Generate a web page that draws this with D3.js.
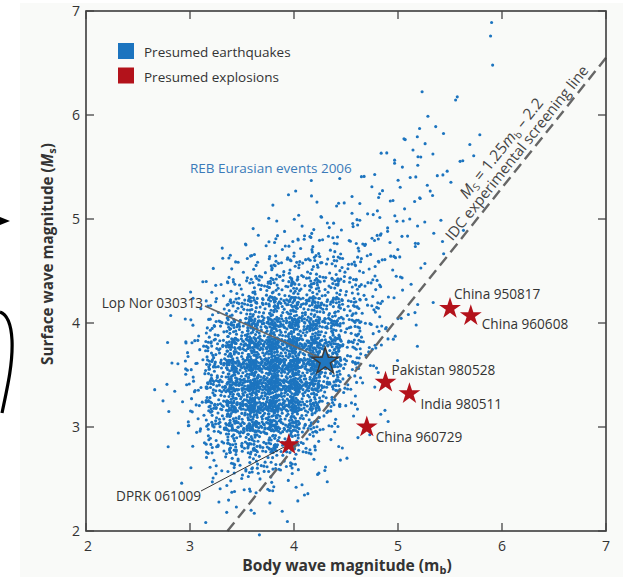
<!DOCTYPE html>
<html><head><meta charset="utf-8">
<script src="https://cdn.jsdelivr.net/npm/d3@7"></script>
<style>
body{margin:0;background:#fff}
svg{display:block}
text{font-family:'Open Sans',sans-serif;fill:#333}
</style>
</head><body>
<svg id="chart" width="623" height="577"></svg>
<script>
// ---------- DATA ----------
const xTickValues = [2, 3, 4, 5, 6, 7];
const yTickValues = [2, 3, 4, 5, 6, 7];

// Density of REB Eurasian events 2006:
// counts per 0.2 x 0.2 magnitude cell.
const mbBinStarts = [2.6, 2.8, 3.0, 3.2, 3.4, 3.6, 3.8, 4.0, 4.2, 4.4, 4.6, 4.8, 5.0, 5.2, 5.4, 5.6, 5.8];
const msBinStarts = [2.0, 2.2, 2.4, 2.6, 2.8, 3.0, 3.2, 3.4, 3.6, 3.8, 4.0, 4.2, 4.4, 4.6, 4.8, 5.0, 5.2, 5.4, 5.6, 5.8, 6.0];
const eventCounts = [
  [0,0,0,1,1,1,1,0,0,0,0,0,0,0,0,0,0],
  [0,0,0,3,3,3,3,1,0,0,0,0,0,0,0,0,0],
  [0,0,1,5,8,8,7,4,1,0,0,0,0,0,0,0,0],
  [0,0,2,14,22,22,17,10,4,1,0,0,0,0,0,0,0],
  [0,1,6,28,45,50,40,22,7,2,1,0,0,0,0,0,0],
  [0,2,10,40,70,80,70,42,14,4,2,1,0,0,0,0,0],
  [1,3,12,45,85,100,95,70,28,7,2,1,0,0,0,0,0],
  [1,3,14,48,85,100,95,85,58,16,4,1,0,0,0,0,0],
  [0,2,12,40,75,90,90,80,60,30,8,2,1,0,0,0,0],
  [0,2,7,28,55,70,72,68,55,30,13,4,1,0,0,0,0],
  [0,1,4,15,32,45,52,52,42,26,14,5,2,1,0,0,0],
  [0,0,2,7,17,27,33,35,30,22,13,6,2,1,0,0,0],
  [0,0,1,3,8,14,17,19,18,15,10,6,3,1,0,0,0],
  [0,0,0,1,3,6,9,10,11,10,8,5,3,2,1,0,0],
  [0,0,0,0,1,2,4,5,6,6,6,5,3,2,1,0,0],
  [0,0,0,0,0,0,2,1,2,3,3,3,3,2,1,0,0],
  [0,0,0,0,0,0,0,2,2,1,3,5,3,4,1,0,0],
  [0,0,0,0,0,0,0,0,0,0,1,2,4,2,2,1,0],
  [0,0,0,0,0,0,0,0,0,0,0,1,3,3,1,1,0],
  [0,0,0,0,0,0,0,0,0,0,0,0,2,3,0,1,0],
  [0,0,0,0,0,0,0,0,0,0,0,0,1,0,1,1,0]
];
// isolated events read individually [mb, Ms]
const isolatedEvents = [
  [5.90, 6.89], [5.89, 6.76], [5.91, 6.48],
  [2.79, 2.81], [2.92, 2.46], [3.31, 4.72], [2.96, 3.82]
];

const explosionNames = ["China 950817", "China 960608", "Pakistan 980528", "India 980511", "China 960729", "DPRK 061009"];
const explosionMb    = [5.50, 5.70, 4.88, 5.11, 4.70, 3.95];
const explosionMs    = [4.14, 4.07, 3.43, 3.32, 3.00, 2.83];

const lopNorName = "Lop Nor 030313";
const lopNorMb = 4.30, lopNorMs = 3.63;

const screeningSlope = 1.25, screeningIntercept = -2.2;
const legendLabels = ["Presumed earthquakes", "Presumed explosions"];

// ---------- LAYOUT / STYLE ----------
const BLUE = "#1c74bf", RED = "#b3121b";
const svg = d3.select("#chart");
const x = d3.scaleLinear().domain([2, 7]).range([86, 606]);
const y = d3.scaleLinear().domain([2, 7]).range([531, 11]);
const binW = 0.2;

// light scan panel
svg.append("rect").attr("x", 20).attr("y", 3).attr("width", 603).attr("height", 574).attr("fill", "#f9faf8");

// scan artefacts at left margin
svg.append("path").attr("d", "M0,217 L10,221 L0,225 Z").attr("fill", "#000");
svg.append("path").attr("d", "M0,312 C6,314 11,322 12,340 C13,362 8,385 2,413")
  .attr("fill", "none").attr("stroke", "#000").attr("stroke-width", 3.2);

// even spread of each cell's count inside (and slightly over the edges of) its cell
function halton(i, b) { let f = 1, r = 0; while (i > 0) { f /= b; r += f * (i % b); i = Math.floor(i / b); } return r; }
const pts = [];
eventCounts.forEach((row, i) => {
  row.forEach((n, j) => {
    const off = i * 53 + j * 211 + 7;
    for (let k = 0; k < n; k++) {
      const u = halton(k + off, 2), v = halton(k + off, 3);
      pts.push([mbBinStarts[j] + (u * 1.5 - 0.25) * binW, msBinStarts[i] + (v * 1.5 - 0.25) * binW]);
    }
  });
});
isolatedEvents.forEach(p => pts.push(p));

svg.append("g").selectAll("circle").data(pts).join("circle")
  .attr("cx", d => x(d[0])).attr("cy", d => y(d[1])).attr("r", 1.55)
  .attr("fill", BLUE);

// screening line
const lineMb0 = (2 - screeningIntercept) / screeningSlope;
svg.append("line")
  .attr("x1", x(lineMb0)).attr("y1", y(2))
  .attr("x2", x(7)).attr("y2", y(screeningSlope * 7 + screeningIntercept))
  .attr("stroke", "#666").attr("stroke-width", 2.4).attr("stroke-dasharray", "11,6");

// texts along the line
const ang = Math.atan2(y(screeningSlope * 3 + screeningIntercept) - y(screeningSlope * 4 + screeningIntercept), x(4) - x(3));
const angDeg = -ang * 180 / Math.PI;
const x0 = x(lineMb0), y0 = y(2);
const dx = Math.cos(ang), dy = -Math.sin(ang);
function along(s) { return [x0 + dx * s, y0 + dy * s]; }
{
  const [px, py] = along(470);
  const t = svg.append("text").attr("transform", `translate(${px},${py}) rotate(${angDeg})`)
    .attr("y", -20).attr("text-anchor", "middle").style("font-size", "15.5px").style("fill", "#444");
  t.append("tspan").text("M").style("font-style", "italic");
  t.append("tspan").text("S").attr("dy", 3).style("font-size", "10px");
  t.append("tspan").text(" = 1.25").attr("dy", -3);
  t.append("tspan").text("m").style("font-style", "italic");
  t.append("tspan").text("b").attr("dy", 3).style("font-size", "10px");
  t.append("tspan").text(" \u2013 2.2").attr("dy", -3);
}
{
  const [px, py] = along(476);
  svg.append("text").attr("transform", `translate(${px},${py}) rotate(${angDeg})`)
    .attr("y", -5).attr("text-anchor", "middle").style("font-size", "14.8px").style("fill", "#444")
    .text("IDC experimental screening line");
}

// frame and ticks
svg.append("rect").attr("x", 86).attr("y", 11).attr("width", 520).attr("height", 520)
  .attr("fill", "none").attr("stroke", "#3c3c3c").attr("stroke-width", 1.6);
const tk = svg.append("g").attr("stroke", "#444").attr("stroke-width", 1.3);
xTickValues.forEach(v => {
  tk.append("line").attr("x1", x(v)).attr("x2", x(v)).attr("y1", 531).attr("y2", 523);
  tk.append("line").attr("x1", x(v)).attr("x2", x(v)).attr("y1", 11).attr("y2", 19);
});
yTickValues.forEach(v => {
  tk.append("line").attr("y1", y(v)).attr("y2", y(v)).attr("x1", 86).attr("x2", 94);
  tk.append("line").attr("y1", y(v)).attr("y2", y(v)).attr("x1", 606).attr("x2", 598);
});
svg.append("g").selectAll("text").data(xTickValues).join("text")
  .attr("x", d => x(d) + (d === 2 ? 2 : 0)).attr("y", 551).attr("text-anchor", "middle")
  .style("font-size", "14px").text(d => d);
svg.append("g").selectAll("text").data(yTickValues).join("text")
  .attr("x", 80).attr("y", d => y(d) + 5).attr("text-anchor", "end")
  .style("font-size", "14px").text(d => d);

// axis titles
{
  const t = svg.append("text").attr("x", 347).attr("y", 571).attr("text-anchor", "middle")
    .style("font-size", "15.6px").style("font-weight", "bold");
  t.append("tspan").text("Body wave magnitude  (m");
  t.append("tspan").text("b").attr("dy", 3).style("font-size", "11px");
  t.append("tspan").text(")").attr("dy", -3);
}
{
  const t = svg.append("text").attr("transform", "translate(53,254) rotate(-90)").attr("text-anchor", "middle")
    .style("font-size", "15.3px").style("font-weight", "bold");
  t.append("tspan").text("Surface wave magnitude (");
  t.append("tspan").text("M").style("font-style", "italic");
  t.append("tspan").text("s").attr("dy", 3).style("font-size", "11px");
  t.append("tspan").text(")").attr("dy", -3);
}

// legend
const legColors = [BLUE, RED];
legendLabels.forEach((l, i) => {
  svg.append("rect").attr("x", 118).attr("y", 43 + i * 24.5).attr("width", 16).attr("height", 16).attr("fill", legColors[i]);
  svg.append("text").attr("x", 144).attr("y", 57 + i * 24.5).style("font-size", "13.5px").text(l);
});

svg.append("text").attr("x", 190).attr("y", 173).style("font-size", "13.5px").style("fill", "#3b7ab9")
  .text("REB Eurasian events 2006");

// leader lines
svg.append("line").attr("x1", 205).attr("y1", 306).attr("x2", x(lopNorMb) - 6).attr("y2", y(lopNorMs) - 4)
  .attr("stroke", "#666").attr("stroke-width", 1.6);
svg.append("line").attr("x1", 201).attr("y1", 491).attr("x2", x(explosionMb[5]) - 4).attr("y2", y(explosionMs[5]) + 2)
  .attr("stroke", "#333").attr("stroke-width", 1);

// stars
const starK = 0.8908130915292852;
const starSmall = d3.symbol(d3.symbolStar, 11.5 * 11.5 / starK)();
const starBig = d3.symbol(d3.symbolStar, 14 * 14 / starK)();
svg.append("path").attr("d", starBig).attr("transform", `translate(${x(lopNorMb)},${y(lopNorMs)})`)
  .attr("fill", "#2077c0").attr("stroke", "#3a3a3a").attr("stroke-width", 1.5);
explosionNames.forEach((n, i) => {
  svg.append("path").attr("d", starSmall).attr("transform", `translate(${x(explosionMb[i])},${y(explosionMs[i])})`)
    .attr("fill", RED);
});

// labels (offsets in px from star)
const labelOffsets = {
  "China 950817": [4, -9, "start"],
  "China 960608": [11, 13, "start"],
  "Pakistan 980528": [6, -7, "start"],
  "India 980511": [11, 15, "start"],
  "China 960729": [9, 15, "start"]
};
explosionNames.forEach((n, i) => {
  const o = labelOffsets[n];
  if (!o) return;
  svg.append("text").attr("x", x(explosionMb[i]) + o[0]).attr("y", y(explosionMs[i]) + o[1])
    .attr("text-anchor", o[2]).style("font-size", "13.6px").text(n);
});
svg.append("text").attr("x", 201).attr("y", 501).attr("text-anchor", "end").style("font-size", "13.6px").text(explosionNames[5]);
svg.append("text").attr("x", 203).attr("y", 308).attr("text-anchor", "end").style("font-size", "13.6px").text(lopNorName);
</script>
</body></html>
